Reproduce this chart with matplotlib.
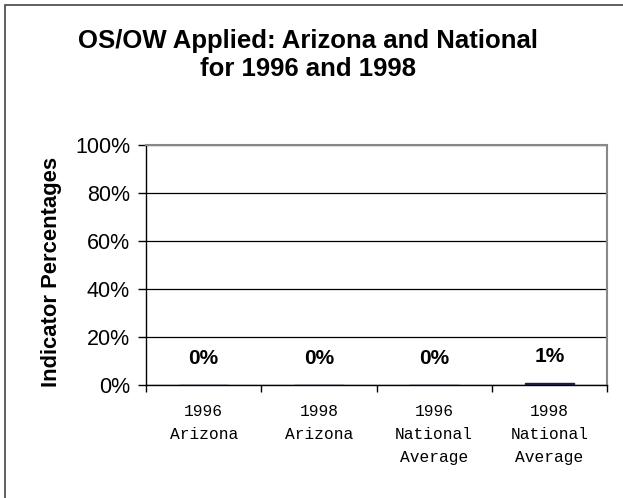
import numpy as np
import matplotlib.pyplot as plt
from matplotlib.patches import Rectangle
from matplotlib.ticker import PercentFormatter

# data
categories = ['1996\nArizona', '1998\nArizona', '1996\nNational\nAverage', '1998\nNational\nAverage']
values = [0.0, 0.0, 0.0, 1.0]
labels = ['0%', '0%', '0%', '1%']

plt.rcParams['font.family'] = ['Liberation Sans', 'DejaVu Sans']

fig = plt.figure(figsize=(6.23, 4.98), dpi=100)
ax = fig.add_axes([146/623, 1-385/498, (607-146)/623, (385-145)/498])

# outer frame
fig.patches.append(Rectangle((5/623, -0.1), 1.2, 1 - 5/498 + 0.1, transform=fig.transFigure,
                             fill=False, edgecolor='#444444', linewidth=1.2))

x = np.arange(len(categories))
ax.bar(x, values, width=0.43, color='#1c1c48', edgecolor='#1c1c48', zorder=3)

for xi, v, lab in zip(x, values, labels):
    ax.annotate(lab, (xi, v), xytext=(0, 19), textcoords='offset points',
                ha='center', va='center', fontsize=15, fontweight='bold')

ax.set_xlim(-0.5, len(categories) - 0.5)
ax.set_ylim(0, 100)
ax.set_yticks([0, 20, 40, 60, 80, 100])
ax.yaxis.set_major_formatter(PercentFormatter(decimals=0))
ax.tick_params(axis='y', labelsize=15.5, length=6, pad=5.5, direction='out', width=1)
ax.yaxis.grid(True, color='black', linewidth=0.9)
ax.set_axisbelow(True)

# category ticks at boundaries, labels centred
ax.set_xticks(np.arange(len(categories) + 1) - 0.5)
ax.set_xticklabels([])
ax.set_xticks(x, minor=True)
ax.set_xticklabels(categories, minor=True, fontfamily='Liberation Mono', fontsize=11.7,
                   linespacing=1.63, va='top')
ax.tick_params(axis='x', which='major', length=5, width=1)
ax.tick_params(axis='x', which='minor', length=0, pad=14)

for s in ['top', 'right']:
    ax.spines[s].set_color('#888888')
    ax.spines[s].set_linewidth(1.5)
ax.spines['left'].set_linewidth(1)
ax.spines['bottom'].set_linewidth(1)

ax.set_ylabel('Indicator Percentages', fontsize=15.8, fontweight='bold')
ax.yaxis.set_label_coords((62 - 146) / 461, 0.47)
fig.text(308/623, 1-55/498, 'OS/OW Applied: Arizona and National\nfor 1996 and 1998',
         ha='center', va='center', fontsize=18.5, fontweight='bold', linespacing=1.25)

fig.savefig('out.png', dpi=100)
